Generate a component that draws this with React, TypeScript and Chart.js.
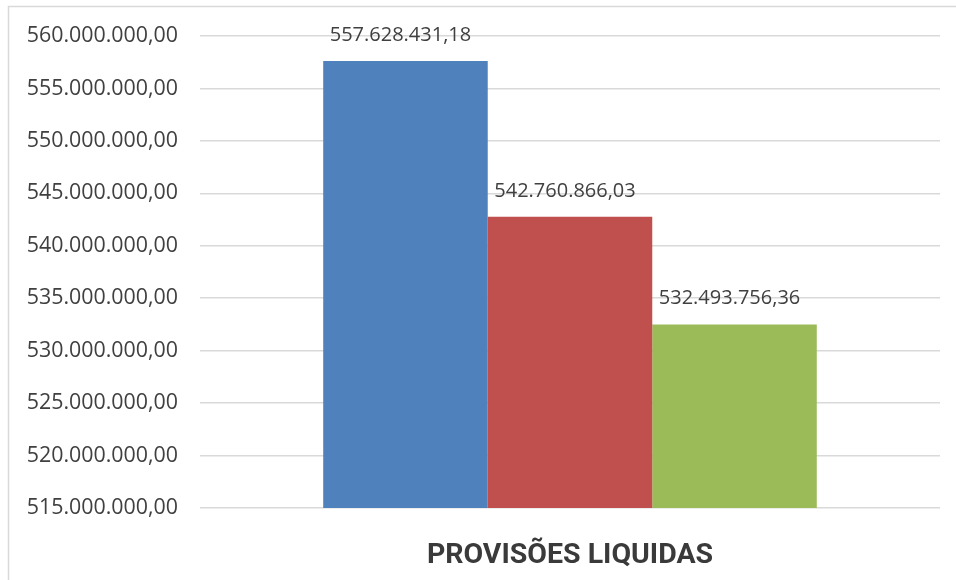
import React, { useEffect, useRef } from "react";
import { Chart, registerables } from "chart.js";

Chart.register(...registerables);

const categories = ["PROVISÕES LIQUIDAS"];
const seriesNames = ["Série 1", "Série 2", "Série 3"];
const seriesValues = [557628431.18, 542760866.03, 532493756.36];
const seriesColors = ["#4F81BD", "#C0504D", "#9BBB59"];
const yMin = 515000000;
const yMax = 560000000;
const yStep = 5000000;

const FONT = "'Open Sans', 'Noto Sans', sans-serif";

function fmt(v: number): string {
  const neg = v < 0;
  const abs = Math.abs(v);
  const fixed = abs.toFixed(2);
  const [intPart, dec] = fixed.split(".");
  const withDots = intPart.replace(/\B(?=(\d{3})+(?!\d))/g, ".");
  return (neg ? "-" : "") + withDots + "," + dec;
}

const frameAndLabels = {
  id: "frameAndLabels",
  beforeDraw(chart: any) {
    const ctx = chart.ctx;
    ctx.save();
    ctx.strokeStyle = "#d9d9d9";
    ctx.lineWidth = 1.5;
    ctx.beginPath();
    ctx.moveTo(8.5, 580);
    ctx.lineTo(8.5, 6.5);
    ctx.lineTo(956, 6.5);
    ctx.stroke();
    ctx.restore();
  },
  afterDatasetsDraw(chart: any) {
    const ctx = chart.ctx;
    ctx.save();
    ctx.font = `20px ${FONT}`;
    ctx.fillStyle = "#404040";
    ctx.textAlign = "center";
    ctx.textBaseline = "middle";
    chart.data.datasets.forEach((ds: any, i: number) => {
      const meta = chart.getDatasetMeta(i);
      meta.data.forEach((bar: any, j: number) => {
        ctx.fillText(fmt(ds.data[j]), bar.x - 5, bar.y - 26);
      });
    });
    ctx.restore();
  },
};

export default function App() {
  const ref = useRef<HTMLCanvasElement>(null);
  useEffect(() => {
    if (!ref.current) return;
    const chart = new Chart(ref.current, {
      type: "bar",
      data: {
        labels: categories,
        datasets: seriesValues.map((v, i) => ({
          label: seriesNames[i],
          data: [v],
          backgroundColor: seriesColors[i],
          borderWidth: 0,
        })),
      },
      options: {
        animation: false,
        responsive: false,
        maintainAspectRatio: false,
        layout: { padding: { left: 0, right: 16, top: 36, bottom: 0 } },
        datasets: { bar: { categoryPercentage: 0.667, barPercentage: 1 } } as any,
        plugins: {
          legend: { display: false },
          tooltip: { enabled: false },
        },
        scales: {
          x: {
            grid: { display: false },
            border: { display: false },
            ticks: {
              color: "#3a3a3a",
              font: { family: "Roboto, " + FONT, size: 28.5, weight: "bold" },
              padding: 23,
            },
            afterFit(scale: any) {
              scale.height = 72;
            },
          },
          y: {
            min: yMin,
            max: yMax,
            grid: { color: "#d9d9d9", lineWidth: 1.5, drawTicks: false },
            border: { display: false },
            ticks: {
              stepSize: yStep,
              color: "#404040",
              font: { family: FONT, size: 21.4 },
              padding: 22,
              callback: (v: any) => fmt(Number(v)),
            },
            afterFit(scale: any) {
              scale.width = 200;
            },
          },
        },
      },
      plugins: [frameAndLabels],
    });
    return () => chart.destroy();
  }, []);
  return (
    <div style={{ position: "absolute", left: 0, top: 0, width: 956, height: 580, background: "#fff" }}>
      <canvas ref={ref} width={956} height={580} style={{ display: "block" }} />
    </div>
  );
}
